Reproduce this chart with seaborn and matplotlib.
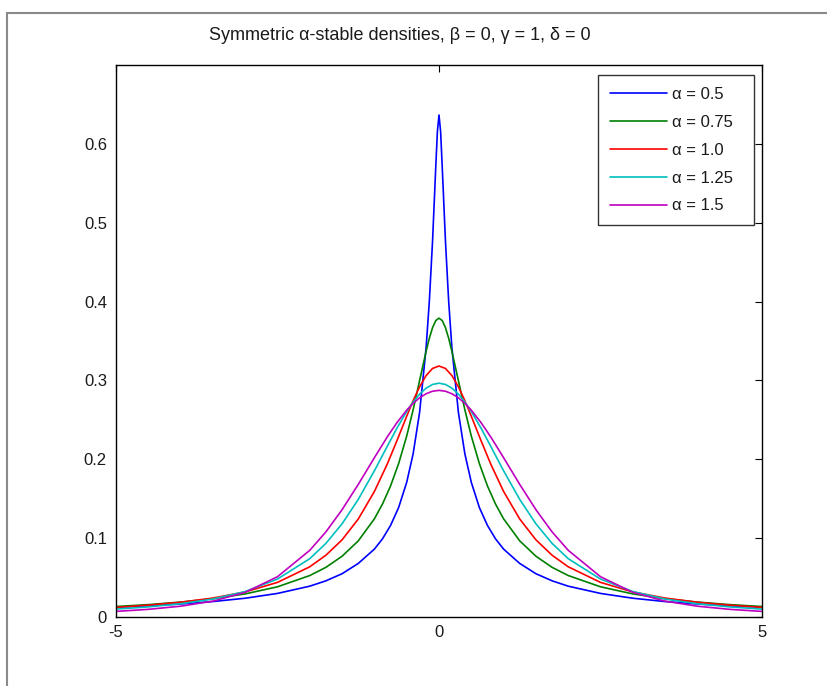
import numpy as np
import pandas as pd
import matplotlib
matplotlib.use("Agg")
import matplotlib.pyplot as plt
import seaborn as sns
from matplotlib.lines import Line2D

# ---------------- data ----------------
title_text = "Symmetric \u03b1-stable densities, \u03b2 = 0, \u03b3 = 1, \u03b4 = 0"
series_labels = ["\u03b1 = 0.5", "\u03b1 = 0.75", "\u03b1 = 1.0", "\u03b1 = 1.25", "\u03b1 = 1.5"]

x_a050 = [-5.0, -4.5, -4.0, -3.5, -3.0, -2.5, -2.0, -1.75, -1.5, -1.25, -1.0, -0.875, -0.75,
          -0.625, -0.5, -0.4, -0.3, -0.2, -0.15, -0.1, -0.05, -0.025, 0.0, 0.025, 0.05, 0.1,
          0.15, 0.2, 0.3, 0.4, 0.5, 0.625, 0.75, 0.875, 1.0, 1.25, 1.5, 1.75, 2.0, 2.5, 3.0,
          3.5, 4.0, 4.5, 5.0]
y_a050 = [0.0123, 0.0142, 0.0165, 0.0196, 0.0238, 0.0299, 0.0391, 0.0459, 0.0549, 0.0679,
          0.0861, 0.0991, 0.1161, 0.1388, 0.1708, 0.2071, 0.2597, 0.3411, 0.3999, 0.4764,
          0.5709, 0.6156, 0.6366, 0.6156, 0.5709, 0.4764, 0.3999, 0.3411, 0.2597, 0.2071,
          0.1708, 0.1388, 0.1161, 0.0991, 0.0861, 0.0679, 0.0549, 0.0459, 0.0391, 0.0299,
          0.0238, 0.0196, 0.0165, 0.0142, 0.0123]

x_a075 = [-5.0, -4.5, -4.0, -3.5, -3.0, -2.5, -2.0, -1.75, -1.5, -1.25, -1.0, -0.875, -0.75,
          -0.625, -0.5, -0.4, -0.3, -0.2, -0.15, -0.1, -0.05, 0.0, 0.05, 0.1, 0.15, 0.2, 0.3,
          0.4, 0.5, 0.625, 0.75, 0.875, 1.0, 1.25, 1.5, 1.75, 2.0, 2.5, 3.0, 3.5, 4.0, 4.5, 5.0]
y_a075 = [0.0133, 0.0157, 0.0189, 0.0232, 0.0293, 0.0383, 0.0526, 0.0630, 0.0771, 0.0965,
          0.1245, 0.1432, 0.1662, 0.1945, 0.2295, 0.2629, 0.2999, 0.3367, 0.3534, 0.3669,
          0.3759, 0.3790, 0.3759, 0.3669, 0.3534, 0.3367, 0.2999, 0.2629, 0.2295, 0.1945,
          0.1662, 0.1432, 0.1245, 0.0965, 0.0771, 0.0630, 0.0526, 0.0383, 0.0293, 0.0232,
          0.0189, 0.0157, 0.0133]

x_wide = [-5.0, -4.5, -4.0, -3.5, -3.0, -2.5, -2.0, -1.75, -1.5, -1.25, -1.0, -0.8, -0.65,
          -0.5, -0.4, -0.3, -0.2, -0.1, 0.0, 0.1, 0.2, 0.3, 0.4, 0.5, 0.65, 0.8, 1.0, 1.25,
          1.5, 1.75, 2.0, 2.5, 3.0, 3.5, 4.0, 4.5, 5.0]
y_a100 = [0.0122, 0.0150, 0.0187, 0.0240, 0.0318, 0.0439, 0.0637, 0.0784, 0.0979, 0.1242,
          0.1592, 0.1941, 0.2238, 0.2546, 0.2744, 0.2920, 0.3061, 0.3152, 0.3183, 0.3152,
          0.3061, 0.2920, 0.2744, 0.2546, 0.2238, 0.1941, 0.1592, 0.1242, 0.0979, 0.0784,
          0.0637, 0.0439, 0.0318, 0.0240, 0.0187, 0.0150, 0.0122]
y_a125 = [0.0100, 0.0128, 0.0168, 0.0228, 0.0323, 0.0481, 0.0740, 0.0934, 0.1182, 0.1491,
          0.1854, 0.2166, 0.2396, 0.2606, 0.2727, 0.2827, 0.2902, 0.2949, 0.2965, 0.2949,
          0.2902, 0.2827, 0.2727, 0.2606, 0.2396, 0.2166, 0.1854, 0.1491, 0.1182, 0.0934,
          0.0740, 0.0481, 0.0323, 0.0228, 0.0168, 0.0128, 0.0100]
y_a150 = [0.0071, 0.0097, 0.0137, 0.0201, 0.0313, 0.0511, 0.0846, 0.1080, 0.1361, 0.1681,
          0.2020, 0.2285, 0.2466, 0.2623, 0.2710, 0.2780, 0.2831, 0.2863, 0.2874, 0.2863,
          0.2831, 0.2780, 0.2710, 0.2623, 0.2466, 0.2285, 0.2020, 0.1681, 0.1361, 0.1080,
          0.0846, 0.0511, 0.0313, 0.0201, 0.0137, 0.0097, 0.0071]

line_colors = ["#0000ff", "#008000", "#ff0000", "#00bfbf", "#bf00bf"]

x_ticks = [-5, 0, 5]
x_tick_labels = ["-5", "0", "5"]
y_ticks = [0, 0.1, 0.2, 0.3, 0.4, 0.5, 0.6]
y_tick_labels = ["0", "0.1", "0.2", "0.3", "0.4", "0.5", "0.6"]

# ---------------- build a long table ----------------
series_x = [x_a050, x_a075, x_wide, x_wide, x_wide]
series_y = [y_a050, y_a075, y_a100, y_a125, y_a150]
frames = []
for lab, xs, ys in zip(series_labels, series_x, series_y):
    frames.append(pd.DataFrame({"x": xs, "density": ys, "series": lab}))
df = pd.concat(frames, ignore_index=True)

# ---------------- styling ----------------
sns.set_theme(style="white")
plt.rcParams["font.family"] = ["Liberation Sans", "DejaVu Sans"]
plt.rcParams["axes.unicode_minus"] = False

W, H = 827, 686
fig = plt.figure(figsize=(W / 100, H / 100), dpi=100)
fig.patch.set_facecolor("white")

ax_l, ax_r, ax_t, ax_b = 116, 762, 65, 617
ax = fig.add_axes([ax_l / W, 1 - ax_b / H, (ax_r - ax_l) / W, (ax_b - ax_t) / H])

sns.lineplot(data=df, x="x", y="density", hue="series", hue_order=series_labels,
             palette=dict(zip(series_labels, line_colors)), estimator=None, sort=False,
             linewidth=1.2, ax=ax)

ax.set_xlim(-5, 5)
ax.set_ylim(0, 0.7)
ax.set_xticks(x_ticks)
ax.set_xticklabels(x_tick_labels)
ax.set_yticks(y_ticks)
ax.set_yticklabels(y_tick_labels)
ax.set_xlabel("")
ax.set_ylabel("")
ax.tick_params(direction="in", length=5, width=0.8, color="black", top=True, right=True,
               labelsize=12, labelcolor="#1a1a1a")
ax.tick_params(axis="x", pad=5.5)
ax.tick_params(axis="y", pad=6.5)
for sp in ax.spines.values():
    sp.set_color("black")
    sp.set_linewidth(1.0)
ax.set_facecolor("white")

handles, labels = ax.get_legend_handles_labels()
leg = ax.legend(handles, [l + "  " for l in labels], loc="upper right",
                bbox_to_anchor=((754 - ax_l) / (ax_r - ax_l), (ax_b - 75) / (ax_b - ax_t)),
                borderaxespad=0, frameon=True, fancybox=False, shadow=False,
                fontsize=12, handlelength=3.4, handletextpad=0.3, labelspacing=0.77,
                borderpad=0.72)
leg.get_frame().set_edgecolor("black")
leg.get_frame().set_linewidth(1.0)
for t in leg.get_texts():
    t.set_color("#1a1a1a")

fig.text(400 / W, 1 - 39.5 / H, title_text, ha="center", va="baseline", fontsize=13,
         color="#1a1a1a")

# window frame lines (left & top)
fig.add_artist(Line2D([7 / W, 7 / W], [0, 1 - 13 / H], transform=fig.transFigure,
                      color="#8a8a8a", linewidth=1.5))
fig.add_artist(Line2D([7 / W, 1], [1 - 13 / H, 1 - 13 / H], transform=fig.transFigure,
                      color="#8a8a8a", linewidth=1.5))

fig.savefig("out.png", dpi=100, facecolor="white")
